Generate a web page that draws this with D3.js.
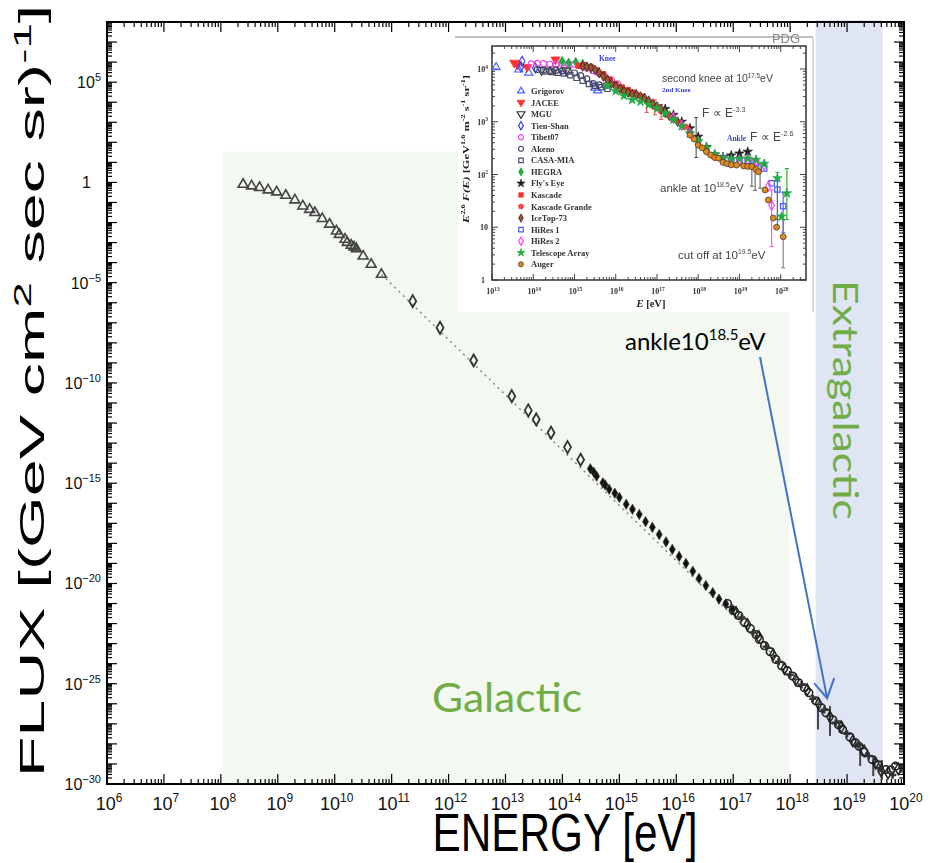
<!DOCTYPE html>
<html>
<head>
<meta charset="utf-8">
<script src="https://cdn.jsdelivr.net/npm/d3@7/dist/d3.min.js"></script>
<style>
  html,body{margin:0;padding:0;background:#fff;}
  svg{display:block;}
</style>
</head>
<body>
<svg id="chart" width="930" height="863"></svg>
<script>
// ===== All-particle cosmic-ray flux, values as log10(E/eV) and log10(flux) =====
const triLogE = [8.39, 8.54, 8.68, 8.83, 8.98, 9.14, 9.30, 9.44, 9.56, 9.65, 9.78, 9.91, 10.03, 10.08, 10.18, 10.22, 10.29, 10.34, 10.38, 10.50, 10.64, 10.82];
const triLogF = [-0.10, -0.18, -0.26, -0.38, -0.48, -0.65, -0.88, -1.18, -1.35, -1.51, -1.81, -2.09, -2.43, -2.60, -2.84, -3.00, -3.14, -3.22, -3.31, -3.68, -4.09, -4.59];

const diaLogE = [11.37, 11.85, 12.44, 13.11, 13.40, 13.54, 13.80, 14.09, 14.32];
const diaLogF = [-5.92, -7.25, -8.88, -10.66, -11.37, -11.82, -12.48, -13.20, -13.83];

const arrLogE = [14.49, 14.55, 14.60, 14.71, 14.75, 14.82, 14.92, 15.00, 15.12, 15.23, 15.35, 15.46, 15.58, 15.70, 15.82, 15.93, 16.05, 16.17, 16.29, 16.40, 16.52, 16.64, 16.75, 16.87, 16.99];
const arrLogF = [-14.28, -14.45, -14.65, -14.98, -15.08, -15.30, -15.50, -15.71, -16.05, -16.30, -16.56, -16.92, -17.20, -17.56, -17.93, -18.30, -18.65, -19.00, -19.39, -19.75, -20.10, -20.46, -20.78, -21.02, -21.30];

const uheLogE = [16.90, 17.00, 17.10, 17.20, 17.30, 17.40, 17.46, 17.55, 17.65, 17.75, 17.85, 17.95, 18.04, 18.15, 18.25, 18.33, 18.45, 18.55, 18.63, 18.75, 18.85, 18.92, 19.05, 19.15, 19.21, 19.30, 19.44, 19.55, 19.68, 19.77, 19.85];
const uheLogF = [-21.00, -21.35, -21.60, -21.95, -22.25, -22.55, -22.79, -23.10, -23.40, -23.79, -24.10, -24.35, -24.62, -24.95, -25.20, -25.45, -25.85, -26.20, -26.45, -26.80, -27.05, -27.28, -27.65, -27.95, -28.12, -28.40, -28.78, -29.05, -29.28, -29.30, -29.11];

const uhe2LogE = [17.05, 17.25, 17.45, 17.70, 17.90, 18.10, 18.30, 18.50, 18.70, 18.90, 19.10, 19.30, 19.50, 19.60, 19.72, 19.90];
const uhe2LogF = [-21.45, -22.05, -22.65, -23.55, -24.25, -24.80, -25.30, -26.00, -26.65, -27.15, -27.85, -28.35, -28.95, -29.35, -29.45, -29.25];

const uhe3LogE = [17.15, 17.35, 17.58, 17.80, 18.00, 18.20, 18.40, 18.60, 18.80, 19.00, 19.20, 19.38, 19.58, 19.80];
const uhe3LogF = [-21.70, -22.45, -23.15, -23.90, -24.55, -25.05, -25.75, -26.30, -26.95, -27.50, -28.05, -28.60, -29.20, -29.55];

const errLogE  = [18.49, 18.70, 19.23, 19.46, 19.61];
const errLogLo = [-27.28, -27.60, -29.10, -29.60, -29.80];
const errLogHi = [-26.12, -26.12, -28.10, -28.60, -28.80];

// power-law guide E^-2.76
const fitLogE = [10.82, 17.90];
const fitLogF = [-4.59, -24.10];

const xTickExps = [6, 7, 8, 9, 10, 11, 12, 13, 14, 15, 16, 17, 18, 19, 20];
const yTickExps = [5, 0, -5, -10, -15, -20, -25, -30];

// ===== PDG inset: E^2.6 F(E) [GeV^1.6 m^-2 s^-1 sr^-1] vs log10(E/eV) =====
const grigorov = [[13.10, 10800], [13.65, 9700], [13.89, 8500], [15.49, 4400], [15.56, 3900]];
const jacee    = [[13.54, 13000], [13.62, 12000], [13.85, 10800], [14.54, 15000]];
const mgu      = [[14.20, 9500], [14.50, 9700], [14.80, 9300]];
const tienShan = [[13.73, 14000], [13.70, 11000], [14.05, 10500]];
const tibet07  = [[13.95, 12500], [14.10, 12800], [14.25, 12600], [14.40, 12300], [14.55, 12400], [14.70, 12700], [14.85, 12500], [15.00, 12200], [15.15, 11500], [15.30, 10500], [15.45, 9300], [15.60, 8200], [15.75, 7000], [15.90, 6000], [16.05, 5200]];
const akeno    = [[14.10, 9800], [14.25, 9500], [14.40, 9300], [14.55, 9400], [14.70, 9200], [14.85, 9000], [15.00, 8400], [15.15, 7500], [15.30, 6500], [15.45, 5300], [15.60, 5000], [15.75, 4800]];
const casaMia  = [[14.30, 9000], [14.45, 8800], [14.60, 8500], [14.75, 8200], [14.90, 7600], [15.05, 6800], [15.20, 6000], [15.35, 5200], [15.50, 4800], [15.65, 4500], [15.80, 4200]];
const hegra    = [[14.70, 14000], [14.86, 13000], [15.03, 13500], [15.20, 12500]];
const flysEye  = [[17.20, 1750], [17.40, 1350], [17.60, 1000], [17.80, 750], [18.00, 520], [18.20, 330], [18.40, 240], [18.60, 215], [18.80, 230], [19.00, 250], [19.20, 270]];
const kascade  = [[15.10, 11500], [15.25, 11800], [15.40, 11000], [15.55, 9500], [15.70, 8000], [15.85, 6400], [16.00, 5200], [16.15, 4500], [16.30, 4000], [16.45, 3600]];
const kascadeGrande = [[16.20, 3700], [16.35, 3400], [16.50, 3300], [16.65, 3000], [16.80, 2300], [16.95, 1900], [17.10, 1600], [17.25, 1350], [17.40, 1100], [17.55, 950], [17.70, 800]];
const iceTop73 = [[15.20, 11200], [15.30, 11000], [15.40, 10500], [15.50, 9600], [15.60, 8400], [15.70, 7200], [15.80, 6200], [15.90, 5300], [16.00, 4700], [16.10, 4200], [16.20, 3800], [16.30, 3600], [16.40, 3350], [16.50, 3200], [16.60, 3000], [16.70, 2800], [16.80, 2500], [16.90, 2200], [17.00, 1950], [17.10, 1750], [17.20, 1500], [17.30, 1300], [17.40, 1150], [17.50, 1000]];
const hiRes1   = [[18.40, 230], [18.60, 200], [18.80, 185], [19.00, 175], [19.20, 180], [19.40, 165], [19.60, 130], [19.78, 68], [19.92, 52], [20.06, 25]];
const hiRes2   = [[17.40, 1200], [17.60, 850], [17.80, 610], [18.00, 420], [18.20, 300], [18.40, 230], [18.60, 195], [18.80, 180], [19.00, 185], [19.20, 190], [19.40, 180], [19.60, 150], [19.70, 60], [19.78, 26]];
const telescopeArray = [[15.80, 4800], [16.00, 3800], [16.20, 3100], [16.40, 2600], [16.60, 2400], [16.80, 2100], [17.00, 1800], [17.20, 1450], [17.40, 1100], [17.60, 820], [17.80, 600], [18.00, 430], [18.20, 320], [18.40, 240], [18.60, 205], [18.80, 195], [19.00, 195], [19.20, 200], [19.40, 190], [19.60, 160], [19.92, 85], [20.02, 16], [20.15, 44]];
const auger    = [[17.80, 560], [17.90, 470], [18.00, 360], [18.10, 320], [18.20, 270], [18.30, 235], [18.40, 210], [18.49, 204], [18.60, 170], [18.70, 160], [18.80, 152], [18.93, 151], [19.10, 145], [19.20, 142], [19.30, 141], [19.40, 125], [19.46, 113], [19.62, 51], [19.70, 33], [19.82, 15], [19.90, 10], [20.06, 6.6]];

// vertical error bars: [log10 E, low, high, colour]
const insetErrors = [
  [17.95, 210, 1200, '#555'], [16.75, 1500, 2900, '#f44'], [16.95, 1350, 2600, '#f44'], [17.10, 1100, 2100, '#f44'],
  [19.30, 60, 190, '#666'], [19.38, 50, 200, '#666'], [19.50, 55, 160, '#666'],
  [19.92, 14, 110, '#2a2'], [20.15, 14, 130, '#2a2'], [19.92, 10, 75, '#55f'], [20.06, 8, 45, '#55f'],
  [19.78, 4.3, 51, '#f4f'], [20.06, 1.7, 14, '#777']
];

const legendNames = ['Grigorov', 'JACEE', 'MGU', 'Tien-Shan', 'Tibet07', 'Akeno', 'CASA-MIA', 'HEGRA', "Fly's Eye", 'Kascade', 'Kascade Grande', 'IceTop-73', 'HiRes 1', 'HiRes 2', 'Telescope Array', 'Auger'];
const insetXTickExps = [13, 14, 15, 16, 17, 18, 19, 20];
const insetYTickExps = [4, 3, 2, 1, 0];

// ================= drawing =================
const svg = d3.select('#chart');
const x = d3.scaleLog().domain([1e6, 1e20]).range([107, 904]);
const y = d3.scaleLog().domain([1e-30, 1e8]).range([784, 22]);
const P = v => Math.pow(10, v);

// blur used on the pasted inset figure
const defs = svg.append('defs');
defs.append('filter').attr('id', 'soft').attr('x', '-5%').attr('y', '-5%').attr('width', '110%').attr('height', '110%')
  .append('feGaussianBlur').attr('stdDeviation', 0.6);

// Galactic / extragalactic shaded bands
svg.append('rect').attr('x', x(1.08e8)).attr('y', y(35))
  .attr('width', x(9.5e17) - x(1.08e8)).attr('height', y(1e-30) - y(35)).attr('fill', '#f3f8f1');
svg.append('rect').attr('x', x(2.8e18)).attr('y', y(1.25e8))
  .attr('width', x(4.2e19) - x(2.8e18)).attr('height', y(1e-30) - y(1.25e8)).attr('fill', '#dfe5f2');

// log ticks on all four sides
function decadeTicks(lo, hi) {
  const out = [];
  for (let k = lo; k < hi; k++) for (let m = 1; m < 10; m++) out.push({ v: m * Math.pow(10, k), major: m === 1 });
  out.push({ v: Math.pow(10, hi), major: true });
  return out;
}
const axG = svg.append('g').attr('stroke', '#000').attr('stroke-width', 1.2);
const xt = decadeTicks(6, 20), yt = decadeTicks(-30, 8);
const [X0, X1] = x.range(), [Y1, Y0] = y.range();
xt.forEach(t => {
  const px = x(t.v), L = t.major ? 10 : 5;
  axG.append('line').attr('x1', px).attr('x2', px).attr('y1', Y1).attr('y2', Y1 - L);
  axG.append('line').attr('x1', px).attr('x2', px).attr('y1', Y0).attr('y2', Y0 + L);
});
yt.forEach(t => {
  const py = y(t.v), L = t.major ? 10 : 5;
  axG.append('line').attr('y1', py).attr('y2', py).attr('x1', X0).attr('x2', X0 + L);
  axG.append('line').attr('y1', py).attr('y2', py).attr('x1', X1).attr('x2', X1 - L);
});
svg.append('rect').attr('x', X0).attr('y', Y0).attr('width', X1 - X0).attr('height', Y1 - Y0)
  .attr('fill', 'none').attr('stroke', '#000').attr('stroke-width', 2);

// tick labels
function powLabel(t, exp, supSize, rise) {
  if (exp === 0) { t.append('tspan').text('1'); return; }
  t.append('tspan').text('10');
  t.append('tspan').attr('font-size', supSize).attr('dy', -rise).text(exp < 0 ? '\u2212' + (-exp) : exp);
}
xTickExps.forEach(k => {
  const t = svg.append('text').attr('x', x(Math.pow(10, k)) + 2).attr('y', 810)
    .attr('text-anchor', 'middle').attr('font-family', 'Arial, "Liberation Sans", sans-serif')
    .attr('font-size', 18).attr('fill', '#111');
  powLabel(t, k, 12, 8);
});
yTickExps.forEach(k => {
  const t = svg.append('text').attr('x', k === 0 ? 91 : 101).attr('y', y(Math.pow(10, k)) + 6)
    .attr('text-anchor', 'end').attr('font-family', 'Arial, "Liberation Sans", sans-serif')
    .attr('font-size', 16).attr('fill', '#111');
  powLabel(t, k, 11, 7);
});

// axis titles, stretched to the printed length
const yTitle = svg.append('text').attr('text-anchor', 'middle')
  .attr('font-family', 'Arial, "Liberation Sans", sans-serif').attr('font-size', 35).attr('fill', '#000');
yTitle.append('tspan').text('FLUX [(GeV cm');
yTitle.append('tspan').attr('font-size', 24).attr('dy', -13).text('2');
yTitle.append('tspan').attr('dy', 13).text(' sec sr)');
yTitle.append('tspan').attr('font-size', 24).attr('dy', -13).text('-1');
yTitle.append('tspan').attr('dy', 13).text(']');
{
  const s = 773 / yTitle.node().getComputedTextLength();
  yTitle.attr('transform', `translate(44,391) rotate(-90) scale(${s},1)`);
}
const xTitle = svg.append('text').attr('text-anchor', 'middle')
  .attr('font-family', 'Arial, "Liberation Sans", sans-serif').attr('font-size', 54).attr('fill', '#000')
  .text('ENERGY [eV]');
{
  const s = 265 / xTitle.node().getComputedTextLength();
  xTitle.attr('transform', `translate(565,851) scale(${s},1)`);
}

// power-law guide
const lineGen = d3.line().x(d => x(P(d[0]))).y(d => y(P(d[1])));
svg.append('path').datum(fitLogE.map((e, i) => [e, fitLogF[i]])).attr('d', lineGen)
  .attr('fill', 'none').attr('stroke', '#888').attr('stroke-width', 1.5).attr('stroke-dasharray', '2,4');

// data markers
const dataG = svg.append('g');
const pts = (E, F) => E.map((e, i) => [e, F[i]]);
dataG.selectAll('.tri').data(pts(triLogE, triLogF)).join('path')
  .attr('d', d3.symbol(d3.symbolTriangle, 42)())
  .attr('transform', d => `translate(${x(P(d[0]))},${y(P(d[1]))})`)
  .attr('fill', 'none').attr('stroke', '#444').attr('stroke-width', 1.6);
dataG.selectAll('.dia').data(pts(diaLogE, diaLogF)).join('path')
  .attr('d', d3.symbol(d3.symbolDiamond, 42)())
  .attr('transform', d => `translate(${x(P(d[0]))},${y(P(d[1]))})`)
  .attr('fill', 'none').attr('stroke', '#333').attr('stroke-width', 1.8);
dataG.selectAll('.arr').data(pts(arrLogE, arrLogF)).join('path')
  .attr('d', d3.symbol(d3.symbolDiamond, 30)())
  .attr('transform', d => `translate(${x(P(d[0]))},${y(P(d[1]))})`)
  .attr('fill', '#111').attr('stroke', '#333').attr('stroke-width', 0.8);
errLogE.forEach((e, i) => {
  dataG.append('line').attr('x1', x(P(e))).attr('x2', x(P(e)))
    .attr('y1', y(P(errLogLo[i]))).attr('y2', y(P(errLogHi[i])))
    .attr('stroke', '#444').attr('stroke-width', 2);
});
dataG.selectAll('.uhe').data(pts(uheLogE, uheLogF)).join('circle')
  .attr('cx', d => x(P(d[0]))).attr('cy', d => y(P(d[1]))).attr('r', 3.8)
  .attr('fill', 'none').attr('stroke', '#222').attr('stroke-width', 1.6);
dataG.selectAll('.uhe2').data(pts(uhe2LogE, uhe2LogF)).join('path')
  .attr('d', d3.symbol(d3.symbolDiamond, 38)())
  .attr('transform', d => `translate(${x(P(d[0]))},${y(P(d[1]))})`)
  .attr('fill', 'none').attr('stroke', '#222').attr('stroke-width', 1.5);
dataG.selectAll('.uhe3').data(pts(uhe3LogE, uhe3LogF)).join('path')
  .attr('d', d3.symbol(d3.symbolCross, 30)())
  .attr('transform', d => `translate(${x(P(d[0]))},${y(P(d[1]))})`)
  .attr('fill', '#333').attr('stroke', 'none');

// region labels
const galactic = svg.append('text').attr('font-family', 'Lato, "Open Sans", sans-serif')
  .attr('font-size', 40).attr('fill', '#70ad47').text('Galactic');
{
  const s = 150 / galactic.node().getComputedTextLength();
  galactic.attr('transform', `translate(432,712) scale(${s},1)`);
}
const extra = svg.append('text').attr('font-family', 'Lato, "Open Sans", sans-serif')
  .attr('font-size', 34).attr('fill', '#70ad47').attr('text-anchor', 'middle').text('Extragalactic');
{
  const s = 240 / extra.node().getComputedTextLength();
  extra.attr('transform', `translate(833,400) rotate(90) scale(${s},1)`);
}

// ankle annotation
const ankle = svg.append('text').attr('x', 625).attr('y', 350)
  .attr('font-family', 'Lato, "Open Sans", sans-serif').attr('font-size', 24).attr('fill', '#000');
ankle.append('tspan').text('ankle10');
ankle.append('tspan').attr('font-size', 15).attr('dy', -10).text('18.5');
ankle.append('tspan').attr('dy', 10).text('eV');
const tipX = x(P(18.65)), tipY = y(P(-25.72));
svg.append('line').attr('x1', 760).attr('y1', 357).attr('x2', tipX).attr('y2', tipY)
  .attr('stroke', '#4472c4').attr('stroke-width', 2);
svg.append('path').attr('d', `M${tipX - 13},${tipY - 15} L${tipX},${tipY} L${tipX + 7},${tipY - 20}`)
  .attr('fill', 'none').attr('stroke', '#4472c4').attr('stroke-width', 2);

// ================= inset =================
const inset = svg.append('g').attr('filter', 'url(#soft)');
inset.append('rect').attr('x', 458).attr('y', 37).attr('width', 355).attr('height', 275).attr('fill', '#fff');
inset.append('line').attr('x1', 455).attr('x2', 813).attr('y1', 37).attr('y2', 37).attr('stroke', '#aaa').attr('stroke-width', 1.5);
inset.append('line').attr('x1', 813).attr('x2', 813).attr('y1', 37).attr('y2', 312).attr('stroke', '#c8c8c8').attr('stroke-width', 1.5);
inset.append('text').attr('x', 786).attr('y', 43).attr('text-anchor', 'middle')
  .attr('font-family', 'Arial, "Liberation Sans", sans-serif').attr('font-size', 13).attr('fill', '#888').text('PDG');

const xi = d3.scaleLog().domain([1e13, 1e20]).range([492, 780.7]);
const yi = d3.scaleLog().domain([1, 1e4]).range([280, 69]);
const FX0 = 492, FX1 = 806, FY0 = 46, FY1 = 280;

const itG = inset.append('g').attr('stroke', '#333').attr('stroke-width', 0.9);
decadeTicks(13, 20).concat([{ v: 2e20, major: false }, { v: 3e20, major: false }]).forEach(t => {
  const px = xi(t.v); if (px > FX1) return;
  const L = t.major ? 6 : 3;
  itG.append('line').attr('x1', px).attr('x2', px).attr('y1', FY1).attr('y2', FY1 - L);
  itG.append('line').attr('x1', px).attr('x2', px).attr('y1', FY0).attr('y2', FY0 + L);
});
decadeTicks(0, 4).concat([{ v: 2e4, major: false }]).forEach(t => {
  const py = yi(t.v); const L = t.major ? 6 : 3;
  itG.append('line').attr('y1', py).attr('y2', py).attr('x1', FX0).attr('x2', FX0 + L);
  itG.append('line').attr('y1', py).attr('y2', py).attr('x1', FX1).attr('x2', FX1 - L);
});
inset.append('rect').attr('x', FX0).attr('y', FY0).attr('width', FX1 - FX0).attr('height', FY1 - FY0)
  .attr('fill', 'none').attr('stroke', '#333').attr('stroke-width', 1.5);

const serif = '"Liberation Serif", "Times New Roman", serif';
insetXTickExps.forEach(k => {
  const t = inset.append('text').attr('x', xi(Math.pow(10, k)) + 1).attr('y', 294).attr('text-anchor', 'middle')
    .attr('font-family', serif).attr('font-weight', 'bold').attr('font-size', 8).attr('fill', '#333');
  t.append('tspan').text('10');
  t.append('tspan').attr('font-size', 5.5).attr('dy', -3.5).text(k);
});
insetYTickExps.forEach(k => {
  const t = inset.append('text').attr('x', k === 0 ? 485 : 488).attr('y', yi(Math.pow(10, k)) + 3).attr('text-anchor', 'end')
    .attr('font-family', serif).attr('font-weight', 'bold').attr('font-size', 8).attr('fill', '#333');
  if (k === 0) t.text('1');
  else if (k === 1) t.text('10');
  else { t.append('tspan').text('10'); t.append('tspan').attr('font-size', 5.5).attr('dy', -3.5).text(k); }
});

// inset axis titles
const iy = inset.append('text').attr('text-anchor', 'middle').attr('font-family', serif)
  .attr('font-weight', 'bold').attr('font-size', 9).attr('fill', '#222');
iy.append('tspan').attr('font-style', 'italic').text('E');
iy.append('tspan').attr('font-size', 6).attr('dy', -4).text('2.6');
iy.append('tspan').attr('dy', 4).attr('font-style', 'italic').text(' F(E)');
iy.append('tspan').text(' [GeV');
iy.append('tspan').attr('font-size', 6).attr('dy', -4).text('1.6');
iy.append('tspan').attr('dy', 4).text(' m');
iy.append('tspan').attr('font-size', 6).attr('dy', -4).text('-2');
iy.append('tspan').attr('dy', 4).text(' s');
iy.append('tspan').attr('font-size', 6).attr('dy', -4).text('-1');
iy.append('tspan').attr('dy', 4).text(' sr');
iy.append('tspan').attr('font-size', 6).attr('dy', -4).text('-1');
iy.append('tspan').attr('dy', 4).text(']');
{
  const s = 148 / iy.node().getComputedTextLength();
  iy.attr('transform', `translate(469,149) rotate(-90) scale(${s},1)`);
}
const ix = inset.append('text').attr('x', 651).attr('y', 307).attr('text-anchor', 'middle').attr('font-family', serif)
  .attr('font-weight', 'bold').attr('font-size', 10.5).attr('fill', '#222');
ix.append('tspan').attr('font-style', 'italic').text('E');
ix.append('tspan').text(' [eV]');

// inset series styles
const downTri = { draw(ctx, size) { const h = Math.sqrt(size / 1.3); ctx.moveTo(-h, -h * 0.6); ctx.lineTo(h, -h * 0.6); ctx.lineTo(0, h * 1.1); ctx.closePath(); } };
const series = [
  { data: grigorov, shape: d3.symbolTriangle, color: '#4466ff', fill: false },
  { data: jacee, shape: downTri, color: '#ff3030', fill: true },
  { data: mgu, shape: downTri, color: '#333', fill: false },
  { data: tienShan, shape: d3.symbolDiamond, color: '#3344ee', fill: false },
  { data: tibet07, shape: d3.symbolCircle, color: '#ee44ee', fill: false },
  { data: akeno, shape: d3.symbolCircle, color: '#44466a', fill: false },
  { data: casaMia, shape: d3.symbolSquare, color: '#4a4a70', fill: false },
  { data: hegra, shape: d3.symbolDiamond, color: '#22aa44', fill: true },
  { data: flysEye, shape: d3.symbolStar, color: '#222', fill: true },
  { data: kascade, shape: d3.symbolSquare, color: '#ee3333', fill: true },
  { data: kascadeGrande, shape: d3.symbolCircle, color: '#ff4444', fill: true },
  { data: iceTop73, shape: d3.symbolDiamond, color: '#a0522d', fill: true, stroke: '#222' },
  { data: hiRes1, shape: d3.symbolSquare, color: '#4455ff', fill: false },
  { data: hiRes2, shape: d3.symbolDiamond, color: '#ff44ff', fill: false },
  { data: telescopeArray, shape: d3.symbolStar, color: '#22aa44', fill: true },
  { data: auger, shape: d3.symbolCircle, color: '#e08a1e', fill: true, stroke: '#333' }
];

insetErrors.forEach(e => {
  inset.append('line').attr('x1', xi(P(e[0]))).attr('x2', xi(P(e[0])))
    .attr('y1', yi(e[1])).attr('y2', yi(e[2])).attr('stroke', e[3]).attr('stroke-width', 1.1);
  [e[1], e[2]].forEach(v => inset.append('line').attr('x1', xi(P(e[0])) - 2).attr('x2', xi(P(e[0])) + 2)
    .attr('y1', yi(v)).attr('y2', yi(v)).attr('stroke', e[3]).attr('stroke-width', 1));
});

const styleMarker = (sel, s) => sel
  .attr('fill', s.fill ? s.color : 'none')
  .attr('stroke', s.stroke || s.color)
  .attr('stroke-width', s.fill ? 0.7 : 1.2);
series.forEach(s => {
  styleMarker(inset.append('g').selectAll('path').data(s.data).join('path')
    .attr('d', d3.symbol(s.shape, 28)())
    .attr('transform', d => `translate(${xi(P(d[0]))},${yi(d[1])})`), s);
});

// legend
series.forEach((s, i) => {
  const ly = 91 + i * 11.55;
  styleMarker(inset.append('path').attr('d', d3.symbol(s.shape, 20)()).attr('transform', `translate(521,${ly})`), s);
  inset.append('text').attr('x', 531).attr('y', ly + 3).attr('font-family', serif).attr('font-weight', 'bold')
    .attr('font-size', 8.5).attr('fill', '#333').text(legendNames[i]);
});

// inset annotations
const sans = 'Arial, "Liberation Sans", sans-serif';
function note(xp, yp, parts, size, color, fam, weight) {
  const t = inset.append('text').attr('x', xp).attr('y', yp).attr('font-family', fam || sans)
    .attr('font-size', size).attr('fill', color || '#444').attr('font-weight', weight || 'normal');
  let up = false;
  parts.forEach(p => {
    const sp = t.append('tspan').text(p.t);
    if (p.sup) { sp.attr('font-size', size * 0.6).attr('dy', -size * 0.4); up = true; }
    else if (up) { sp.attr('dy', size * 0.4); up = false; }
  });
}
note(599, 61, [{ t: 'Knee' }], 7.5, '#3344dd', serif, 'bold');
note(662, 82, [{ t: 'second knee at 10' }, { t: '17.5', sup: true }, { t: 'eV' }], 10.5);
note(662, 92, [{ t: '2nd Knee' }], 7, '#3344dd', serif, 'bold');
note(702, 117, [{ t: 'F \u221d E' }, { t: '-3.3', sup: true }], 12);
note(727, 141, [{ t: 'Ankle' }], 7.5, '#3344dd', serif, 'bold');
note(750, 141, [{ t: 'F \u221d  E' }, { t: '-2.6', sup: true }], 12);
note(660, 192, [{ t: 'ankle at 10' }, { t: '18.5', sup: true }, { t: 'eV' }], 11.5);
note(678, 259, [{ t: 'cut off at 10' }, { t: '19.5', sup: true }, { t: 'eV' }], 11.5);
</script>
</body>
</html>
